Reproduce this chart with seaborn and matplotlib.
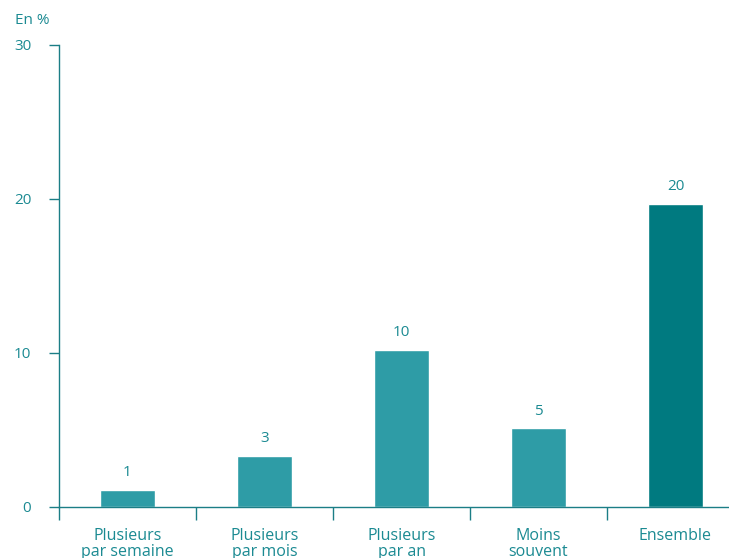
import matplotlib
matplotlib.use("Agg")
import matplotlib.pyplot as plt
import seaborn as sns
import pandas as pd

categories = ["Plusieurs\npar semaine", "Plusieurs\npar mois", "Plusieurs\npar an", "Moins\nsouvent", "Ensemble"]
values = [1.1, 3.3, 10.2, 5.1, 19.7]
value_labels = ["1", "3", "10", "5", "20"]
y_ticks = [0, 10, 20, 30]

sns.set_style("white")
plt.rcParams['font.family'] = ['Open Sans', 'DejaVu Sans']

light = "#2e9ca6"
dark = "#007a80"
text_c = "#1b8a92"
axis_c = "#1b7e86"

df = pd.DataFrame({"cat": categories, "val": values})
palette = {c: (dark if c == "Ensemble" else light) for c in categories}

fig = plt.figure(figsize=(7.29, 5.58), dpi=100)
ax = fig.add_axes([59/729, 51/558, 685/729, 462/558])
sns.barplot(data=df, x="cat", y="val", hue="cat", palette=palette, width=0.4,
            legend=False, ax=ax, saturation=1)

ax.set_xlim(-0.5, 4.5)
ax.set_ylim(0, 30)
ax.set_yticks(y_ticks)
ax.set_yticklabels([str(t) for t in y_ticks])
ax.set_xlabel("")
ax.set_ylabel("")

for s in ["top", "right"]:
    ax.spines[s].set_visible(False)
for s in ["left", "bottom"]:
    ax.spines[s].set_color(axis_c)
    ax.spines[s].set_linewidth(1.0)

ax.tick_params(axis="y", direction="out", length=7, width=1, color=axis_c,
               labelcolor=text_c, labelsize=11, pad=13, left=True)
ax.set_xticks(range(len(categories)))
ax.set_xticklabels(categories)
ax.tick_params(axis="x", which="major", length=0, labelcolor=text_c, labelsize=11.5, pad=15)
ax.set_xticks([-0.5 + i for i in range(len(categories))], minor=True)
ax.tick_params(axis="x", which="minor", direction="out", length=9, width=1, color=axis_c, bottom=True)
for lab in ax.get_xticklabels():
    lab.set_linespacing(1.0)

for p, lab in zip(ax.patches, value_labels):
    ax.annotate(lab, (p.get_x() + p.get_width()/2, p.get_height()),
                xytext=(0, 7), textcoords="offset points", ha="center", va="bottom",
                color=text_c, fontsize=11)

fig.text(15/729, 1 - 20/558, "En %", color=text_c, fontsize=11, ha="left", va="center")

fig.savefig("out.png", dpi=100)
